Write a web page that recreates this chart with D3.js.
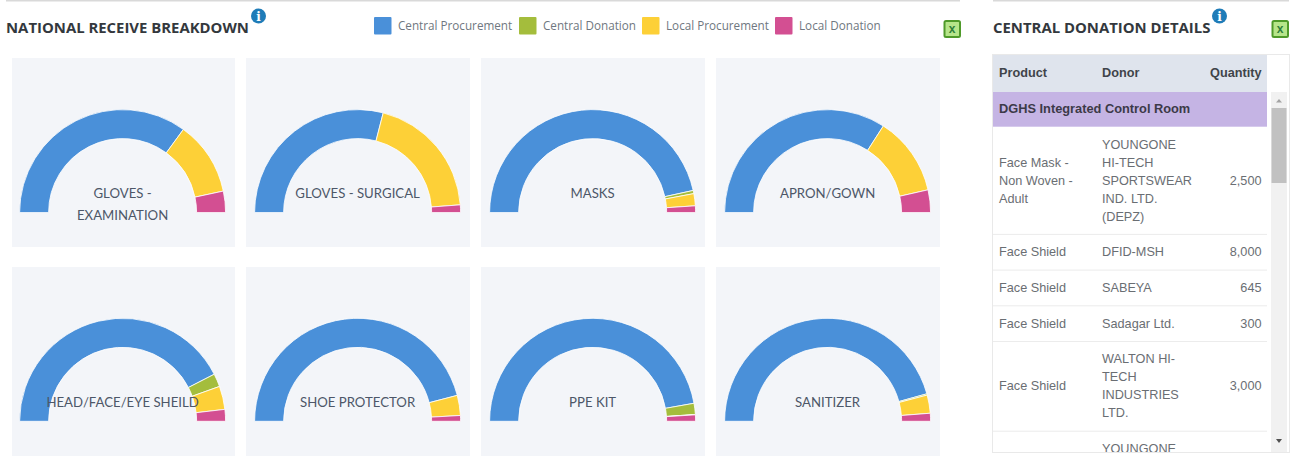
<!DOCTYPE html>
<html>
<head>
<meta charset="utf-8">
<title>National Receive Breakdown</title>
<script src="https://cdn.jsdelivr.net/npm/d3@7"></script>
<style>
    html, body { margin: 0; padding: 0; background: #fff; overflow: hidden; }
    svg { display: block; }
</style>
</head>
<body>
<div id="chart"></div>
<script>
// values are percent of the half circle
const categories = [
    ["GLOVES -", "EXAMINATION"], ["GLOVES - SURGICAL"], ["MASKS"], ["APRON/GOWN"],
    ["HEAD/FACE/EYE SHEILD"], ["SHOE PROTECTOR"], ["PPE KIT"], ["SANITIZER"]
];
const centralProcurement = [70.1, 58.0, 93.1, 68.2, 84.9, 91.9, 94.4, 91.4];
const centralDonation = [0, 0, 1.0, 0, 4.1, 0, 3.5, 0.4];
const localProcurement = [23.2, 39.6, 3.8, 24.7, 7.3, 6.3, 0.1, 5.7];
const localDonation = [6.7, 2.4, 2.1, 7.1, 3.7, 1.8, 2.0, 2.5];

const seriesNames = ["Central Procurement", "Central Donation", "Local Procurement", "Local Donation"];
const seriesColors = ["#4a90d9", "#a4bd3c", "#fdd037", "#d34f92"];

const tableColumns = ["Product", "Donor", "Quantity"];
const donorGroup = "DGHS Integrated Control Room";
// the last row is cut by the scroll area, only its first donor line shows
const products = [
    ["Face Mask -", "Non Woven -", "Adult"], ["Face Shield"], ["Face Shield"], ["Face Shield"], ["Face Shield"], []
];
const donors = [
    ["YOUNGONE", "HI-TECH", "SPORTSWEAR", "IND. LTD.", "(DEPZ)"], ["DFID-MSH"], ["SABEYA"], ["Sadagar Ltd."],
    ["WALTON HI-", "TECH", "INDUSTRIES", "LTD."], ["YOUNGONE"]
];
const quantities = [["2,500"], ["8,000"], ["645"], ["300"], ["3,000"], []];

const svg = d3.select("#chart").append("svg")
    .attr("width", 1300)
    .attr("height", 456);

const titleFont = "'Open Sans', sans-serif";
const tableFont = "'Liberation Sans', Arial, sans-serif";

// top rules
svg.append("rect").attr("x", 6).attr("y", 0).attr("width", 954).attr("height", 1.5).attr("fill", "#d9d9d9");
svg.append("rect").attr("x", 993).attr("y", 0).attr("width", 296).attr("height", 1.5).attr("fill", "#d9d9d9");

function drawTitle(text, x) {
    svg.append("text")
        .attr("x", x).attr("y", 33)
        .attr("font-family", titleFont)
        .attr("font-size", 14.9)
        .attr("font-weight", 700)
        .attr("fill", "#33383d")
        .text(text);
}

function drawInfo(cx) {
    svg.append("circle").attr("cx", cx).attr("cy", 16).attr("r", 7.5).attr("fill", "#1f7cb8");
    svg.append("text")
        .attr("x", cx).attr("y", 20.5)
        .attr("text-anchor", "middle")
        .attr("font-family", "'DejaVu Serif', serif")
        .attr("font-size", 12)
        .attr("font-weight", 700)
        .attr("fill", "#fff")
        .text("i");
}

function drawExcel(x) {
    svg.append("rect").attr("x", x + 1).attr("y", 21).attr("width", 15.5).attr("height", 16).attr("rx", 1.5)
        .attr("fill", "#b6e58a").attr("stroke", "#4f9a2a").attr("stroke-width", 2);
    svg.append("text")
        .attr("x", x + 8.7).attr("y", 33)
        .attr("text-anchor", "middle")
        .attr("font-family", tableFont)
        .attr("font-size", 12)
        .attr("font-weight", 700)
        .attr("fill", "#2f7f3a")
        .text("x");
}

drawTitle("NATIONAL RECEIVE BREAKDOWN", 6);
drawInfo(258.5);
drawExcel(943.5);
drawTitle("CENTRAL DONATION DETAILS", 993);
drawInfo(1219.5);
drawExcel(1271.5);

// legend
const legendSwatchX = [374, 519, 642, 775];
const legend = svg.append("g").selectAll("g")
    .data(seriesNames)
    .join("g")
    .attr("transform", (d, i) => `translate(${legendSwatchX[i]},17)`);
legend.append("rect")
    .attr("width", 17.5).attr("height", 17.5).attr("rx", 1)
    .attr("fill", (d, i) => seriesColors[i]);
legend.append("text")
    .attr("x", 24).attr("y", 13)
    .attr("font-family", titleFont)
    .attr("font-size", 11.7)
    .attr("fill", "#6f7780")
    .text(d => d);

// gauges
const cardTop = [58, 267];
const cardHeight = 189;
const outerRadius = 103;
const innerRadius = 74;

const pie = d3.pie().sort(null)
    .startAngle(-Math.PI / 2)
    .endAngle(Math.PI / 2);
const arc = d3.arc().innerRadius(innerRadius).outerRadius(outerRadius);

categories.forEach((label, i) => {
    const col = i % 4;
    const row = Math.floor(i / 4);
    const cx = 122.6 + col * 235;
    const cy = row === 0 ? 212.6 : 421.3;
    const values = [centralProcurement[i], centralDonation[i], localProcurement[i], localDonation[i]];

    svg.append("rect")
        .attr("x", 12 + col * 235 - (col === 0 ? 0 : 1))
        .attr("y", cardTop[row])
        .attr("width", col === 0 ? 223 : 224)
        .attr("height", cardHeight)
        .attr("fill", "#f3f5f9");

    const g = svg.append("g").attr("transform", `translate(${cx},${cy})`);

    g.selectAll("path")
        .data(pie(values))
        .join("path")
        .attr("d", arc)
        .attr("fill", (d, k) => seriesColors[k])
        .attr("stroke", "#fff")
        .attr("stroke-width", d => d.value > 0 ? 0.8 : 0);

    g.selectAll("text")
        .data(label)
        .join("text")
        .attr("text-anchor", "middle")
        .attr("y", (d, k) => -14.5 + k * 22)
        .attr("font-family", "Lato, sans-serif")
        .attr("font-size", 13.2)
        .attr("fill", "#4d5768")
        .text(d => d);
});

// table panel
const panelX = 993, panelY = 55, panelW = 296, panelH = 397;
const tableW = 274;
const lineH = 18;
const cellPad = 17.7;

svg.append("rect")
    .attr("x", panelX - 0.5).attr("y", panelY - 0.5)
    .attr("width", panelW + 1).attr("height", panelH + 1)
    .attr("fill", "#fff").attr("stroke", "#e9e9e9");

svg.append("clipPath").attr("id", "panelClip")
    .append("rect").attr("x", panelX).attr("y", panelY).attr("width", panelW).attr("height", panelH);

const tableG = svg.append("g").attr("clip-path", "url(#panelClip)");

tableG.append("rect").attr("x", panelX).attr("y", panelY).attr("width", tableW).attr("height", 37).attr("fill", "#dfe4ed");
tableG.append("rect").attr("x", panelX).attr("y", 92).attr("width", tableW).attr("height", 34.7).attr("fill", "#c5b4e4");

const columnX = [999, 1102, 1261.5];
tableColumns.forEach((name, i) => {
    tableG.append("text")
        .attr("x", columnX[i]).attr("y", 76.5)
        .attr("text-anchor", i === 2 ? "end" : "start")
        .attr("font-family", tableFont)
        .attr("font-size", 12.7)
        .attr("font-weight", 700)
        .attr("fill", "#3f444a")
        .text(name);
});

tableG.append("text")
    .attr("x", 999).attr("y", 112.5)
    .attr("font-family", tableFont)
    .attr("font-size", 12.8)
    .attr("font-weight", 700)
    .attr("fill", "#3c3a48")
    .text(donorGroup);

let rowTop = 126.7;
products.forEach((product, i) => {
    const donor = donors[i];
    const lines = Math.max(product.length, donor.length);
    const rowH = lines * lineH + cellPad;
    const mid = rowTop + rowH / 2;

    const cell = (textLines, x, anchor) => {
        tableG.append("g").selectAll("text")
            .data(textLines)
            .join("text")
            .attr("x", x)
            .attr("y", (d, k) => mid + (k - (textLines.length - 1) / 2) * lineH + 4)
            .attr("text-anchor", anchor)
            .attr("font-family", tableFont)
            .attr("font-size", 12.7)
            .attr("fill", "#6a6e73")
            .text(d => d);
    };
    cell(product, columnX[0], "start");
    cell(donor, columnX[1], "start");
    cell(quantities[i], columnX[2], "end");

    rowTop += rowH;
    if (i < products.length - 1) {
        tableG.append("rect")
            .attr("x", panelX).attr("y", rowTop - 0.5)
            .attr("width", tableW).attr("height", 1)
            .attr("fill", "#ececec");
    }
});

// scrollbar
tableG.append("rect").attr("x", 1271).attr("y", 92).attr("width", 16).attr("height", 360).attr("fill", "#f1f1f1");
tableG.append("rect").attr("x", 1271.5).attr("y", 108).attr("width", 15).attr("height", 75).attr("fill", "#c1c1c1");
tableG.append("path").attr("d", d3.line()([[1276, 102.5], [1279, 99], [1282, 102.5]])).attr("fill", "#a3a3a3");
tableG.append("path").attr("d", d3.line()([[1276, 439], [1279, 443], [1282, 439]])).attr("fill", "#505050");
</script>
</body>
</html>
